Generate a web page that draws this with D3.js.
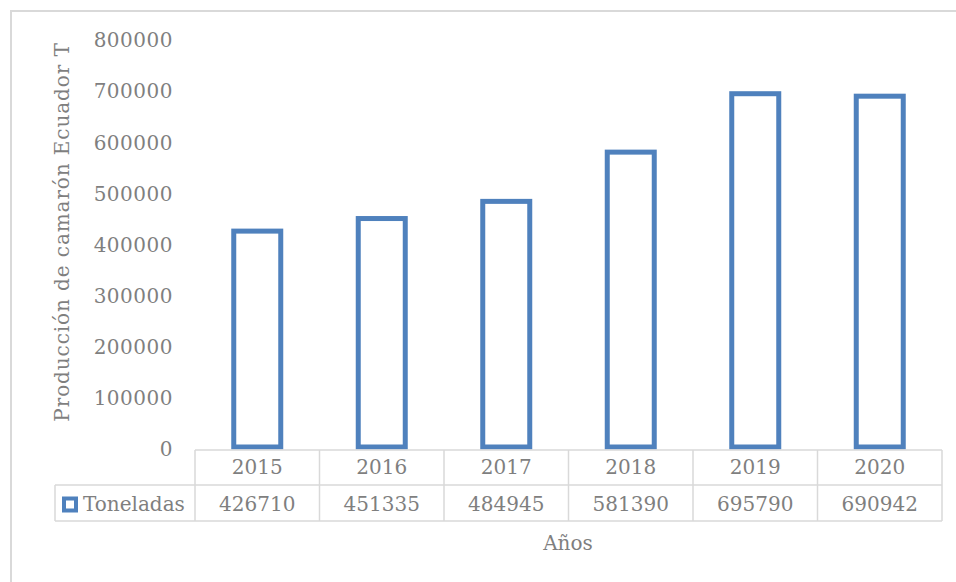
<!DOCTYPE html>
<html>
<head>
<meta charset="utf-8">
<script src="https://cdn.jsdelivr.net/npm/d3@7"></script>
<style>
  body { margin: 0; background: #fff; }
  text { font-family: "DejaVu Serif", serif; fill: #7f7f7f; }
</style>
</head>
<body>
<div id="chart"></div>
<script>
// Data
const years = ['2015', '2016', '2017', '2018', '2019', '2020'];
const toneladas = [426710, 451335, 484945, 581390, 695790, 690942];
const yTicks = [0, 100000, 200000, 300000, 400000, 500000, 600000, 700000, 800000];
const seriesName = 'Toneladas';

const width = 956, height = 582;
const blue = '#4f81bd', grid = '#d9d9d9';

const svg = d3.select('#chart').append('svg')
    .attr('width', width)
    .attr('height', height);

// outer chart frame (runs off right and bottom)
svg.append('rect')
    .attr('x', 11).attr('y', 11)
    .attr('width', width).attr('height', height)
    .attr('fill', 'none').attr('stroke', grid).attr('stroke-width', 2);

// Scales
const xScale = d3.scaleBand().domain(years).range([195, 942]).padding(0);
const yScale = d3.scaleLinear().domain([0, 800000]).range([449, 40.5]);

// Y axis
const yAxis = d3.axisLeft(yScale).tickValues(yTicks).tickSize(0).tickPadding(0)
    .tickFormat(d3.format('d'));
const yG = svg.append('g').attr('transform', 'translate(173,0)').call(yAxis);
yG.select('.domain').remove();
yG.selectAll('text').attr('font-size', 20).attr('font-family', '"DejaVu Serif", serif')
    .attr('fill', '#7f7f7f').attr('letter-spacing', 0.5);

// Bars (outlined)
const barW = 47;
svg.append('g').selectAll('.bar')
    .data(years.map((y, i) => ({ year: y, value: toneladas[i] })))
    .enter().append('rect')
    .attr('class', 'bar')
    .attr('x', d => xScale(d.year) + xScale.bandwidth() / 2 - barW / 2)
    .attr('y', d => yScale(d.value))
    .attr('width', barW)
    .attr('height', d => 447 - yScale(d.value))
    .attr('fill', '#fff')
    .attr('stroke', blue)
    .attr('stroke-width', 5);

// Data table
const t = svg.append('g').attr('stroke', grid).attr('stroke-width', 1.5);
const row0 = 450, row1 = 485, row2 = 521, legX = 55;
t.append('line').attr('x1', 195).attr('x2', 942).attr('y1', row0).attr('y2', row0);
t.append('line').attr('x1', legX).attr('x2', 942).attr('y1', row1).attr('y2', row1);
t.append('line').attr('x1', legX).attr('x2', 942).attr('y1', row2).attr('y2', row2);
t.append('line').attr('x1', legX).attr('x2', legX).attr('y1', row1).attr('y2', row2);
const cols = years.map(y => xScale(y)).concat([xScale.range()[1]]);
t.selectAll('.vline').data(cols).enter().append('line')
    .attr('x1', d => d).attr('x2', d => d).attr('y1', row0).attr('y2', row2);

const fmt = d3.format('d');
svg.append('g').selectAll('text').data(years).enter().append('text')
    .attr('x', d => xScale(d) + xScale.bandwidth() / 2)
    .attr('y', 474)
    .attr('text-anchor', 'middle').attr('font-size', 20)
    .text(d => d);
svg.append('g').selectAll('text').data(toneladas).enter().append('text')
    .attr('x', (d, i) => xScale(years[i]) + xScale.bandwidth() / 2)
    .attr('y', 511)
    .attr('text-anchor', 'middle').attr('font-size', 20)
    .text(d => fmt(d));

// legend key in table
svg.append('rect')
    .attr('x', 64).attr('y', 498.5).attr('width', 12).attr('height', 12)
    .attr('fill', '#fff').attr('stroke', blue).attr('stroke-width', 4);
svg.append('text')
    .attr('x', 83).attr('y', 511).attr('font-size', 20)
    .text(seriesName);

// Axis titles
svg.append('text')
    .attr('x', 568).attr('y', 550)
    .attr('text-anchor', 'middle').attr('font-size', 20)
    .text('Años');
svg.append('text')
    .attr('transform', 'translate(69,232) rotate(-90)')
    .attr('text-anchor', 'middle').attr('font-size', 20)
    .attr('letter-spacing', 0.9)
    .text('Producción de camarón Ecuador T');
</script>
</body>
</html>
